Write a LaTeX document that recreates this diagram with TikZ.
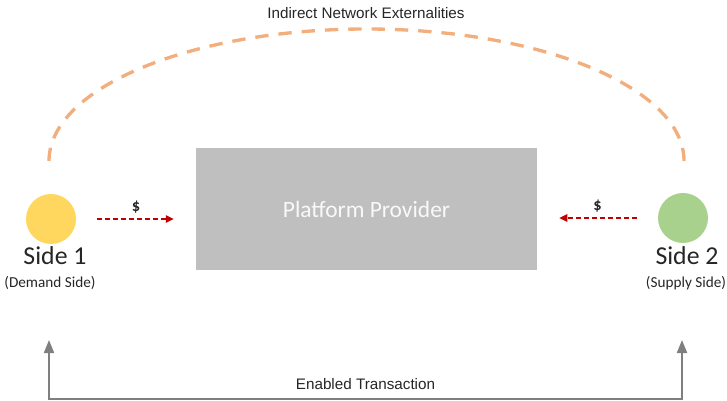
\documentclass[tikz,border=0pt]{standalone}
\usepackage{fontspec}
\setmainfont{Carlito}
\newfontfamily\helvfont{Liberation Sans}
\usetikzlibrary{arrows.meta, positioning}
\definecolor{boxgray}{HTML}{BFBFBF}
\definecolor{sideyellow}{HTML}{FFD75E}
\definecolor{sidegreen}{HTML}{A9D18E}
\definecolor{linkorange}{HTML}{F2AE7C}
\definecolor{moneyred}{HTML}{C00000}
\definecolor{flowgray}{HTML}{7F7F7F}
\definecolor{textgray}{HTML}{262626}

\tikzset{
    side/.style={circle, minimum size=1.5cm, inner sep=0pt},
    sidename/.style={text=textgray, inner sep=0pt, font=\fontsize{22}{24}\selectfont},
    sidesub/.style={text=textgray, inner sep=0pt, font=\fontsize{13}{15}\selectfont},
    money/.style={moneyred, line width=1.3pt, dash pattern=on 1.5mm off 0.9mm,
        -{Triangle[length=2.4mm, width=2.2mm]}, shorten <=0.63cm, shorten >=0.66cm},
    dollar/.style={text=textgray, font=\bfseries\fontsize{14}{16}\selectfont},
    flow/.style={flowgray, line width=1.7pt, {Triangle[length=3.9mm, width=3mm]}-{Triangle[length=3.9mm, width=3mm]}},
    caption/.style={text=textgray, font=\helvfont\fontsize{13}{15}\selectfont}
}

\begin{document}
\begin{tikzpicture}[x=0.03cm, y=-0.03cm, >=Stealth]

    \useasboundingbox (0,0) rectangle (727,401);

    % the platform in the middle
    \node[fill=boxgray, minimum width=10.23cm, minimum height=3.66cm, text=white!95!gray,
        font=\fontsize{20}{24}\selectfont] (platform) at (366.5,209) {Platform Provider};

    % the two sides
    \node[side, fill=sideyellow] (side1) at (51,219) {};
    \node[side, fill=sidegreen] (side2) at (683,218) {};

    \node[sidename] (side1name) at (55,256) {Side 1};
    \node[sidesub] (side1sub) at (50,283) {(Demand Side)};
    \node[sidename] (side2name) at (687,256) {Side 2};
    \node[sidesub] (side2sub) at (686,283) {(Supply Side)};

    % payments flowing to the platform
    \draw[money] (side1.east) -- (side1.east -| platform.west) node[midway, above=1pt, dollar] (pay1) {\$};
    \draw[money] (side2.west) -- (side2.west -| platform.east) node[midway, above=1pt, dollar] (pay2) {\$};

    % dashed arc over the top:
    \coordinate (arcL) at (49,161);
    \coordinate (arcR) at (684,161);
    \draw[linkorange, line width=1mm, dash pattern=on 4mm off 3mm]
        (arcL) arc[start angle=180, end angle=360, x radius=317.5, y radius=132];
    \node[caption] (externalities) at (366,13) {Indirect Network Externalities};

    % transaction line along the bottom
    \coordinate (tip1) at (49,340);
    \coordinate (base1) at (49,399);
    \coordinate (base2) at (682,399);
    \coordinate (tip2) at (682,340);
    \draw[flow] (tip1) -- (base1) -- node[caption, above=4pt] (transaction) {Enabled Transaction} (base2) -- (tip2);

\end{tikzpicture}
\end{document}
